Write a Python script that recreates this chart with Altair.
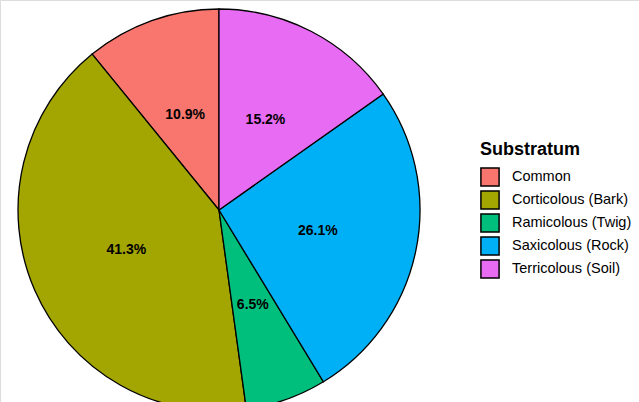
import altair as alt
import pandas as pd

categories = ["Common", "Corticolous (Bark)", "Ramicolous (Twig)", "Saxicolous (Rock)", "Terricolous (Soil)"]
counts = [5, 19, 3, 12, 7]
colors = ["#F8766D", "#A3A500", "#00BF7D", "#00B0F6", "#E76BF3"]
# clockwise drawing order starting at 12 o'clock
draw_order = ["Terricolous (Soil)", "Saxicolous (Rock)", "Ramicolous (Twig)", "Corticolous (Bark)", "Common"]

total = sum(counts)
df = pd.DataFrame({
    "Substratum": categories,
    "count": counts,
    "ord": [draw_order.index(c) for c in categories],
    "label": [f"{c / total * 100:.1f}%" for c in counts],
})

FONT = "Liberation Sans"
CX, CY, R = 219, 210, 201

base = alt.Chart(df).encode(
    theta=alt.Theta("count:Q", stack=True),
    order=alt.Order("ord:Q", sort="ascending"),
)

arcs = base.mark_arc(stroke="black", strokeWidth=1.3).encode(
    color=alt.Color(
        "Substratum:N",
        scale=alt.Scale(domain=categories, range=colors),
        legend=alt.Legend(
            title="Substratum",
            orient="none",
            legendX=480,
            legendY=141,
            titleFont=FONT,
            titleFontSize=18,
            titleFontWeight="bold",
            titleColor="black",
            titlePadding=8,
            labelFont=FONT,
            labelFontSize=14.5,
            labelColor="black",
            labelOffset=12,
            symbolType="square",
            symbolSize=330,
            symbolStrokeColor="black",
            symbolStrokeWidth=1.5,
            symbolOpacity=1,
            rowPadding=-3.5,
            padding=0,
        ),
    ),
    x=alt.value(CX),
    y=alt.value(CY),
    radius=alt.value(R),
)

texts = base.mark_text(
    font=FONT, fontSize=14, fontWeight="bold", color="black", align="center", baseline="middle"
).encode(
    text="label:N",
    x=alt.value(CX),
    y=alt.value(CY),
    radius=alt.value(101),
)

chart = (arcs + texts).properties(
    width=639, height=402, padding=0, autosize=alt.AutoSizeParams(type="none")
).configure_view(stroke=None).configure(background="white")

chart.save("out.html", embed_options={"renderer": "svg", "actions": False})
